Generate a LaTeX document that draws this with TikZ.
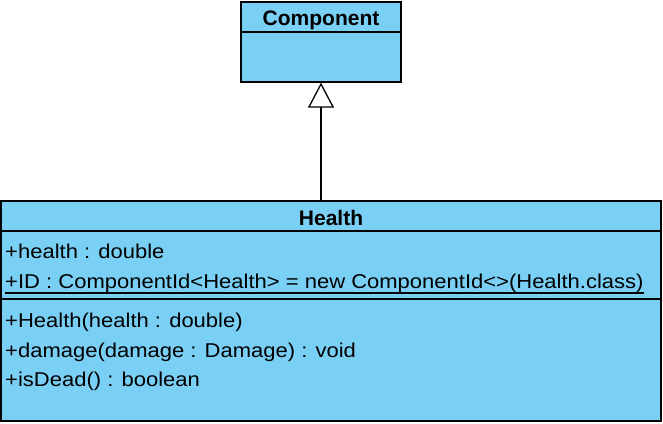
\documentclass[tikz,border=0pt]{standalone}
\usepackage{fontspec}
\setmainfont{Liberation Sans}
\usepackage{tikz}
\usetikzlibrary{arrows.meta, positioning}
\definecolor{umlblue}{RGB}{122,207,245}
\tikzstyle{umlclass} = [rectangle, draw=black, fill=umlblue, line width=1.3pt, inner sep=0pt]
\tikzstyle{classname} = [font=\fontsize{21}{24}\selectfont\bfseries, inner sep=0pt, anchor=base]
\tikzstyle{member} = [font=\fontsize{20}{24}\selectfont, inner sep=0pt, anchor=base west, xscale=1.1]
\tikzstyle{divider} = [line width=1.3pt]
\tikzstyle{inherit} = [line width=1.3pt, -{Triangle[open, fill=white, width=26pt, length=25pt]}]

\begin{document}
\begin{tikzpicture}[x=1pt, y=-1pt]
    \useasboundingbox (0,0) rectangle (663,423);
    % Superclass
    \node[umlclass, minimum width=160pt, minimum height=80pt] (component) at (321,42) {};
    \node[classname] (componentname) at (321,25) {Component};
    \draw[divider] (component.west |- 0,32) -- (component.east |- 0,32);

    % Subclass
    \node[umlclass, minimum width=660pt, minimum height=220pt] (health) at (331,311) {};
    \node[classname] (healthname) at (331,225) {Health};
    \draw[divider] (health.west |- 0,231) -- (health.east |- 0,231);
    \draw[divider] (health.west |- 0,299) -- (health.east |- 0,299);

    % Attributes
    \node[member] (healthattr) at (5,258) {+health : double};
    \node[member] (idattr) at (5,288) {+ID : ComponentId<Health> = new ComponentId<>(Health.class)};
    \draw[divider] ([yshift=-5pt]idattr.base west) -- ([yshift=-5pt]idattr.base east);

    % Operations
    \node[member] (ctor) at (5,327) {+Health(health : double)};
    \node[member] (damageop) at (5,357) {+damage(damage : Damage) : void};
    \node[member] (isdeadop) at (5,386) {+isDead() : boolean};

    % Generalization
    \draw[inherit] (health.north -| component.south) -- (component.south);
\end{tikzpicture}
\end{document}
